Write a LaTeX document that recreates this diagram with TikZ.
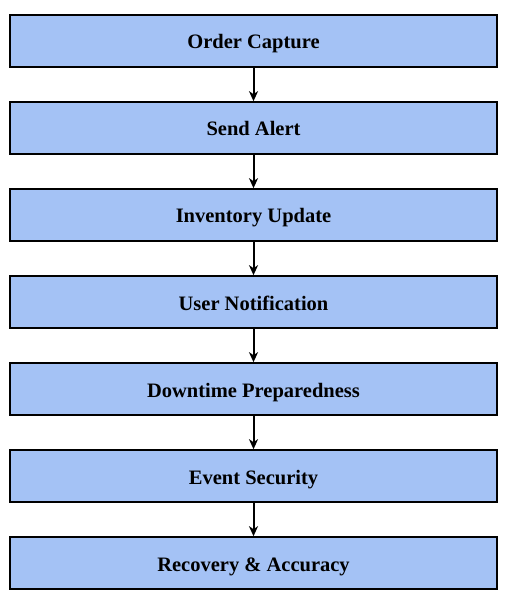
\documentclass[tikz,border=0pt]{standalone}
\usepackage{fontspec}
\setmainfont{Liberation Serif}
\usetikzlibrary{arrows.meta}
\definecolor{boxblue}{HTML}{A4C2F5}
\tikzset{
  stepbox/.style={draw=black, line width=1.6pt, fill=boxblue, minimum width=487pt, minimum height=52pt, inner sep=0pt,
    font=\bfseries\fontsize{20.5}{24}\selectfont, text=black, text height=19pt, text depth=3pt},
  flow/.style={draw=black, line width=2pt, -{Stealth[length=10pt,width=9pt,inset=3pt]}}
}
\begin{document}
\begin{tikzpicture}[x=1pt,y=-1pt]
\useasboundingbox (0,0) rectangle (512,601);
\node[stepbox] (a) at (253.5,41) {Order Capture};
\node[stepbox] (b) at (253.5,128) {Send Alert};
\node[stepbox] (c) at (253.5,215) {Inventory Update};
\node[stepbox] (d) at (253.5,302) {User Notification};
\node[stepbox] (e) at (253.5,389) {Downtime Preparedness};
\node[stepbox] (f) at (253.5,476) {Event Security};
\node[stepbox] (g) at (253.5,563) {Recovery \& Accuracy};
\draw[flow] (a) -- (b);
\draw[flow] (b) -- (c);
\draw[flow] (c) -- (d);
\draw[flow] (d) -- (e);
\draw[flow] (e) -- (f);
\draw[flow] (f) -- (g);
\end{tikzpicture}
\end{document}
